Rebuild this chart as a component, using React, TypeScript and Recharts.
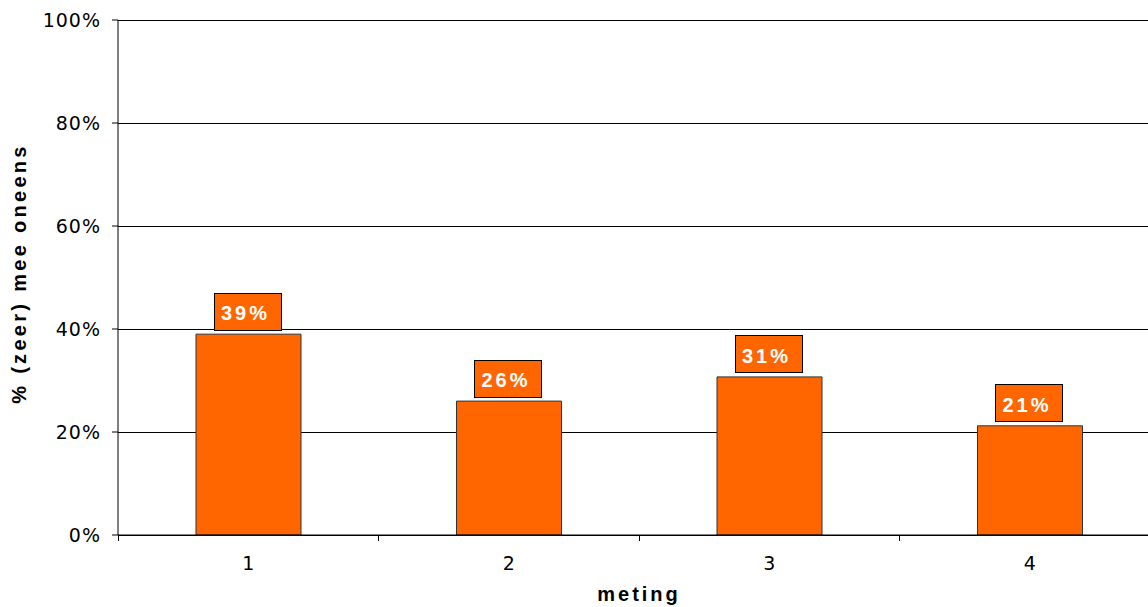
import { Bar, BarChart, CartesianGrid, LabelList, XAxis, YAxis } from "recharts";

const metingen = ["1", "2", "3", "4"];
const oneensPct = [39, 26, 30.7, 21.2];
const yTicks = [0, 20, 40, 60, 80, 100];

const data = metingen.map((meting, i) => ({ meting, pct: oneensPct[i] }));

const CHART_W = 1160;
const CHART_H = 607;
const Y_AXIS_W = 118;
const BAND = (CHART_W - Y_AXIS_W) / metingen.length;
const ORANGE = "#FF6600";

function CategoryTick(props: any) {
  const { x, y, payload } = props;
  // axis line sits 22px above the tick text anchor (tickSize 6 + tickMargin 16)
  const axisY = y - 22;
  const left = x - BAND / 2;
  return (
    <g>
      <line x1={left} x2={left} y1={axisY} y2={axisY + 6} stroke="#000" shapeRendering="crispEdges" />
      <text x={x} y={y} dy="0.71em" textAnchor="middle" fontFamily="DejaVu Sans" fontSize={19} fill="#000">
        {payload.value}
      </text>
    </g>
  );
}

function ValueBox(props: any) {
  const { x, y, width, value } = props;
  const cx = x + width / 2;
  const boxW = 67;
  const boxH = 37;
  const boxX = cx - boxW / 2 - 1;
  const boxY = y - 4 - boxH;
  return (
    <g>
      <rect x={boxX} y={boxY} width={boxW} height={boxH} fill={ORANGE} stroke="#000" shapeRendering="crispEdges" />
      <text
        x={boxX + 7}
        y={boxY + 27}
        fontFamily="Liberation Sans"
        fontWeight="bold"
        fontSize={20}
        letterSpacing={3}
        fill="#fff"
      >
        {`${Math.round(value)}%`}
      </text>
    </g>
  );
}

export default function App() {
  return (
    <div style={{ position: "absolute", left: 0, top: 0, width: 1148, height: 607, overflow: "hidden", background: "#fff" }}>
      <BarChart width={CHART_W} height={CHART_H} data={data} margin={{ top: 20, right: 0, bottom: 0, left: 0 }}>
        <CartesianGrid vertical={false} stroke="#000" strokeDasharray="" shapeRendering="crispEdges" />
        <XAxis
          dataKey="meting"
          height={72}
          axisLine={{ stroke: "#000" }}
          tickLine={false}
          tickSize={6}
          tickMargin={16}
          tick={<CategoryTick />}
          label={{
            content: ({ viewBox }: any) => (
              <text
                x={viewBox.x + viewBox.width / 2}
                y={viewBox.y + 66}
                textAnchor="middle"
                fontFamily="Liberation Sans"
                fontWeight="bold"
                fontSize={20}
                letterSpacing={3}
                fill="#000"
              >
                meting
              </text>
            ),
          }}
        />
        <YAxis
          width={Y_AXIS_W}
          domain={[0, 100]}
          ticks={yTicks}
          interval={0}
          tickFormatter={(v: number) => `${v}%`}
          axisLine={{ stroke: "#000" }}
          tickLine={{ stroke: "#000" }}
          tickSize={6}
          tickMargin={11}
          tick={{ fill: "#000", fontFamily: "DejaVu Sans", fontSize: 19, letterSpacing: 1 }}
          label={{
            content: ({ viewBox }: any) => {
              const cy = viewBox.y + viewBox.height / 2 - 4;
              return (
                <text
                  x={26}
                  y={cy}
                  transform={`rotate(-90, 26, ${cy})`}
                  textAnchor="middle"
                  fontFamily="Liberation Sans"
                  fontWeight="bold"
                  fontSize={20}
                  letterSpacing={3.3}
                  fill="#000"
                >
                  % (zeer) mee oneens
                </text>
              );
            },
          }}
        />
        <Bar dataKey="pct" fill={ORANGE} stroke="#333" barSize={105} isAnimationActive={false}>
          <LabelList dataKey="pct" content={<ValueBox />} />
        </Bar>
      </BarChart>
    </div>
  );
}
